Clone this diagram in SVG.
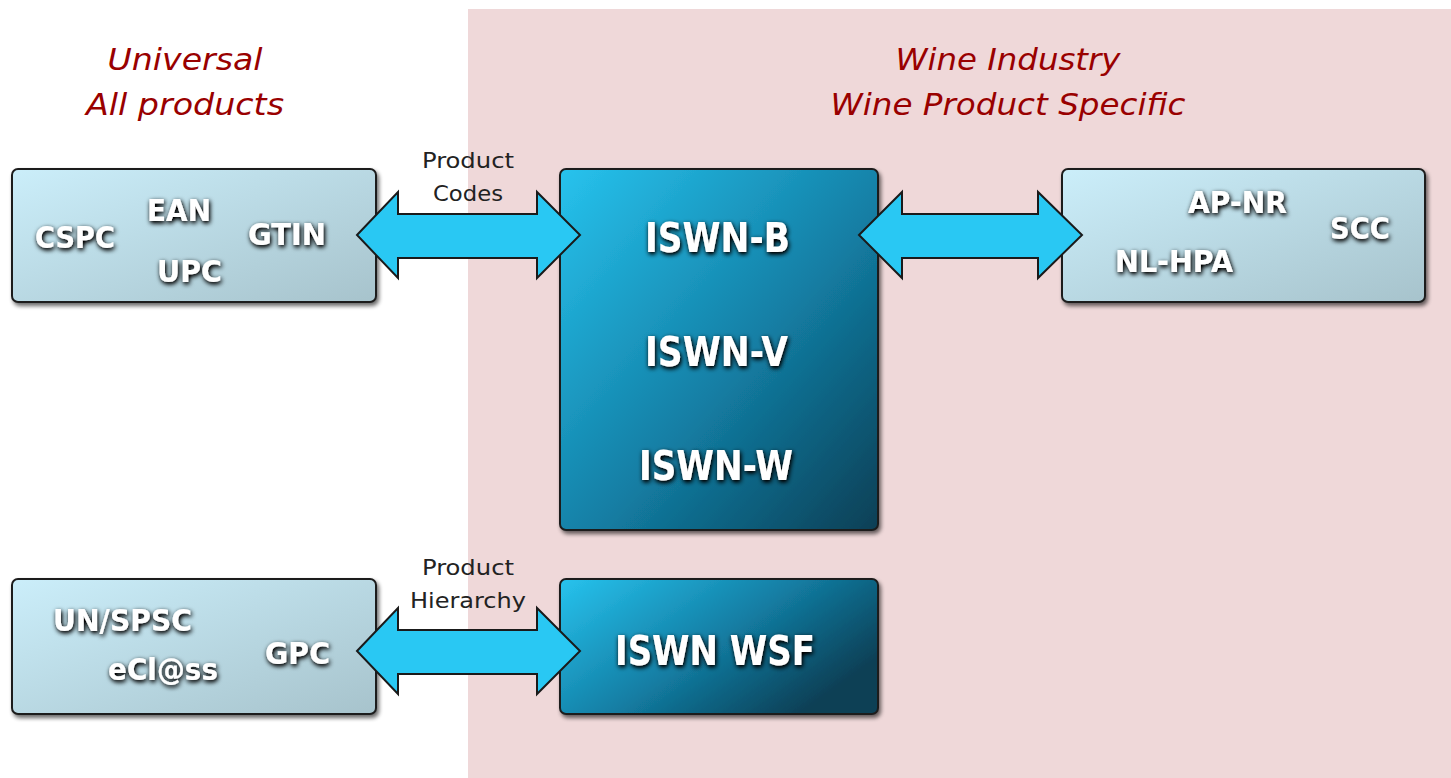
<svg xmlns="http://www.w3.org/2000/svg" width="1451" height="778" viewBox="0 0 1451 778">
  <defs>
    <linearGradient id="lightGrad" x1="0" y1="0" x2="1" y2="1">
      <stop offset="0" stop-color="#cbeefa"/>
      <stop offset="1" stop-color="#a7c3cc"/>
    </linearGradient>
    <linearGradient id="darkGrad" x1="0" y1="0" x2="1" y2="1">
      <stop offset="0" stop-color="#27c3ee"/>
      <stop offset="0.55" stop-color="#137ea4"/>
      <stop offset="1" stop-color="#083f55"/>
    </linearGradient>
    <linearGradient id="darkGrad2" x1="0" y1="0" x2="1" y2="0.6">
      <stop offset="0" stop-color="#27c3ee"/>
      <stop offset="0.55" stop-color="#137ea4"/>
      <stop offset="1" stop-color="#083f55"/>
    </linearGradient>
    <filter id="boxShadow" x="-5%" y="-5%" width="112%" height="115%">
      <feGaussianBlur in="SourceAlpha" stdDeviation="2"/>
      <feOffset dx="2" dy="3" result="b"/>
      <feComponentTransfer><feFuncA type="linear" slope="0.6"/></feComponentTransfer>
      <feMerge><feMergeNode/><feMergeNode in="SourceGraphic"/></feMerge>
    </filter>
    <filter id="textShadow" x="-20%" y="-40%" width="140%" height="180%">
      <feGaussianBlur in="SourceAlpha" stdDeviation="2.5"/>
      <feOffset dx="1" dy="2" result="b"/>
      <feComponentTransfer><feFuncA type="linear" slope="1.3"/></feComponentTransfer>
      <feMerge><feMergeNode/><feMergeNode in="SourceGraphic"/></feMerge>
    </filter>
  </defs>
  <style>
    .light { fill: url(#lightGrad); stroke: #1e1e1e; stroke-width: 2; filter: url(#boxShadow); }
    .dark { fill: url(#darkGrad); stroke: #1e1e1e; stroke-width: 2; filter: url(#boxShadow); }
    .dark2 { fill: url(#darkGrad2); stroke: #1e1e1e; stroke-width: 2; filter: url(#boxShadow); }
    .lbl { font-family: "DejaVu Sans Condensed", "DejaVu Sans", sans-serif; font-weight: bold; fill: #ffffff; filter: url(#textShadow); }
    .s30 { font-size: 30px; }
    .s40 { font-size: 40px; }
    .head { font-family: "DejaVu Sans Condensed", "DejaVu Sans", sans-serif; font-style: italic; font-size: 30px; fill: #990000; text-anchor: middle; }
    .small { font-family: "DejaVu Sans Condensed", "DejaVu Sans", sans-serif; font-size: 21px; fill: #222222; text-anchor: middle; }
    .arrow { fill: #29c8f3; stroke: #1a1a1a; stroke-width: 2; stroke-linejoin: miter; }
  </style>

  <rect x="0" y="0" width="1451" height="778" fill="#ffffff"/>
  <rect id="wine-zone" x="468" y="9" width="983" height="769" fill="#efd8d9"/>

  <g id="headings">
    <text class="head" x="185" y="70" textLength="155" lengthAdjust="spacingAndGlyphs">Universal</text>
    <text class="head" x="185" y="115" textLength="198" lengthAdjust="spacingAndGlyphs">All products</text>
    <text class="head" x="1008" y="70" textLength="225" lengthAdjust="spacingAndGlyphs">Wine Industry</text>
    <text class="head" x="1008" y="115" textLength="355" lengthAdjust="spacingAndGlyphs">Wine Product Specific</text>
  </g>

  <g id="universal-codes">
    <rect class="light" x="12" y="169" width="364" height="133" rx="6"/>
    <text class="lbl s30" x="35" y="248" textLength="80" lengthAdjust="spacingAndGlyphs">CSPC</text>
    <text class="lbl s30" x="147" y="221" textLength="64" lengthAdjust="spacingAndGlyphs">EAN</text>
    <text class="lbl s30" x="157" y="282" textLength="65" lengthAdjust="spacingAndGlyphs">UPC</text>
    <text class="lbl s30" x="248" y="245" textLength="78" lengthAdjust="spacingAndGlyphs">GTIN</text>
  </g>

  <g id="iswn-main">
    <rect class="dark" x="560" y="169" width="318" height="361" rx="6"/>
    <text class="lbl s40" x="645" y="252" textLength="145" lengthAdjust="spacingAndGlyphs">ISWN-B</text>
    <text class="lbl s40" x="645" y="366" textLength="143" lengthAdjust="spacingAndGlyphs">ISWN-V</text>
    <text class="lbl s40" x="639" y="480" textLength="154" lengthAdjust="spacingAndGlyphs">ISWN-W</text>
  </g>

  <g id="wine-codes">
    <rect class="light" x="1062" y="169" width="363" height="133" rx="6"/>
    <text class="lbl s30" x="1188" y="213" textLength="99" lengthAdjust="spacingAndGlyphs">AP-NR</text>
    <text class="lbl s30" x="1330" y="239" textLength="60" lengthAdjust="spacingAndGlyphs">SCC</text>
    <text class="lbl s30" x="1115" y="272" textLength="118" lengthAdjust="spacingAndGlyphs">NL-HPA</text>
  </g>

  <g id="universal-hierarchy">
    <rect class="light" x="12" y="579" width="364" height="135" rx="6"/>
    <text class="lbl s30" x="53" y="631" textLength="139" lengthAdjust="spacingAndGlyphs">UN/SPSC</text>
    <text class="lbl s30" x="108" y="680" textLength="110" lengthAdjust="spacingAndGlyphs">eCl@ss</text>
    <text class="lbl s30" x="265" y="664" textLength="65" lengthAdjust="spacingAndGlyphs">GPC</text>
  </g>

  <g id="iswn-wsf">
    <rect class="dark2" x="560" y="579" width="318" height="135" rx="6"/>
    <text class="lbl s40" x="615" y="665" textLength="200" lengthAdjust="spacingAndGlyphs">ISWN WSF</text>
  </g>

  <g id="connectors">
    <polygon class="arrow" points="357,235 398,192 398,214 537,214 537,192 580,235 537,278 537,258 398,258 398,278"/>
    <polygon class="arrow" points="859,235 902,192 902,214 1038,214 1038,192 1082,235 1038,278 1038,258 902,258 902,278"/>
    <polygon class="arrow" points="357,651 398,608 398,630 537,630 537,608 580,651 537,694 537,674 398,674 398,694"/>
    <text class="small" x="468" y="168" textLength="92" lengthAdjust="spacingAndGlyphs">Product</text>
    <text class="small" x="468" y="201" textLength="70" lengthAdjust="spacingAndGlyphs">Codes</text>
    <text class="small" x="468" y="575" textLength="92" lengthAdjust="spacingAndGlyphs">Product</text>
    <text class="small" x="468" y="608" textLength="116" lengthAdjust="spacingAndGlyphs">Hierarchy</text>
  </g>
</svg>
